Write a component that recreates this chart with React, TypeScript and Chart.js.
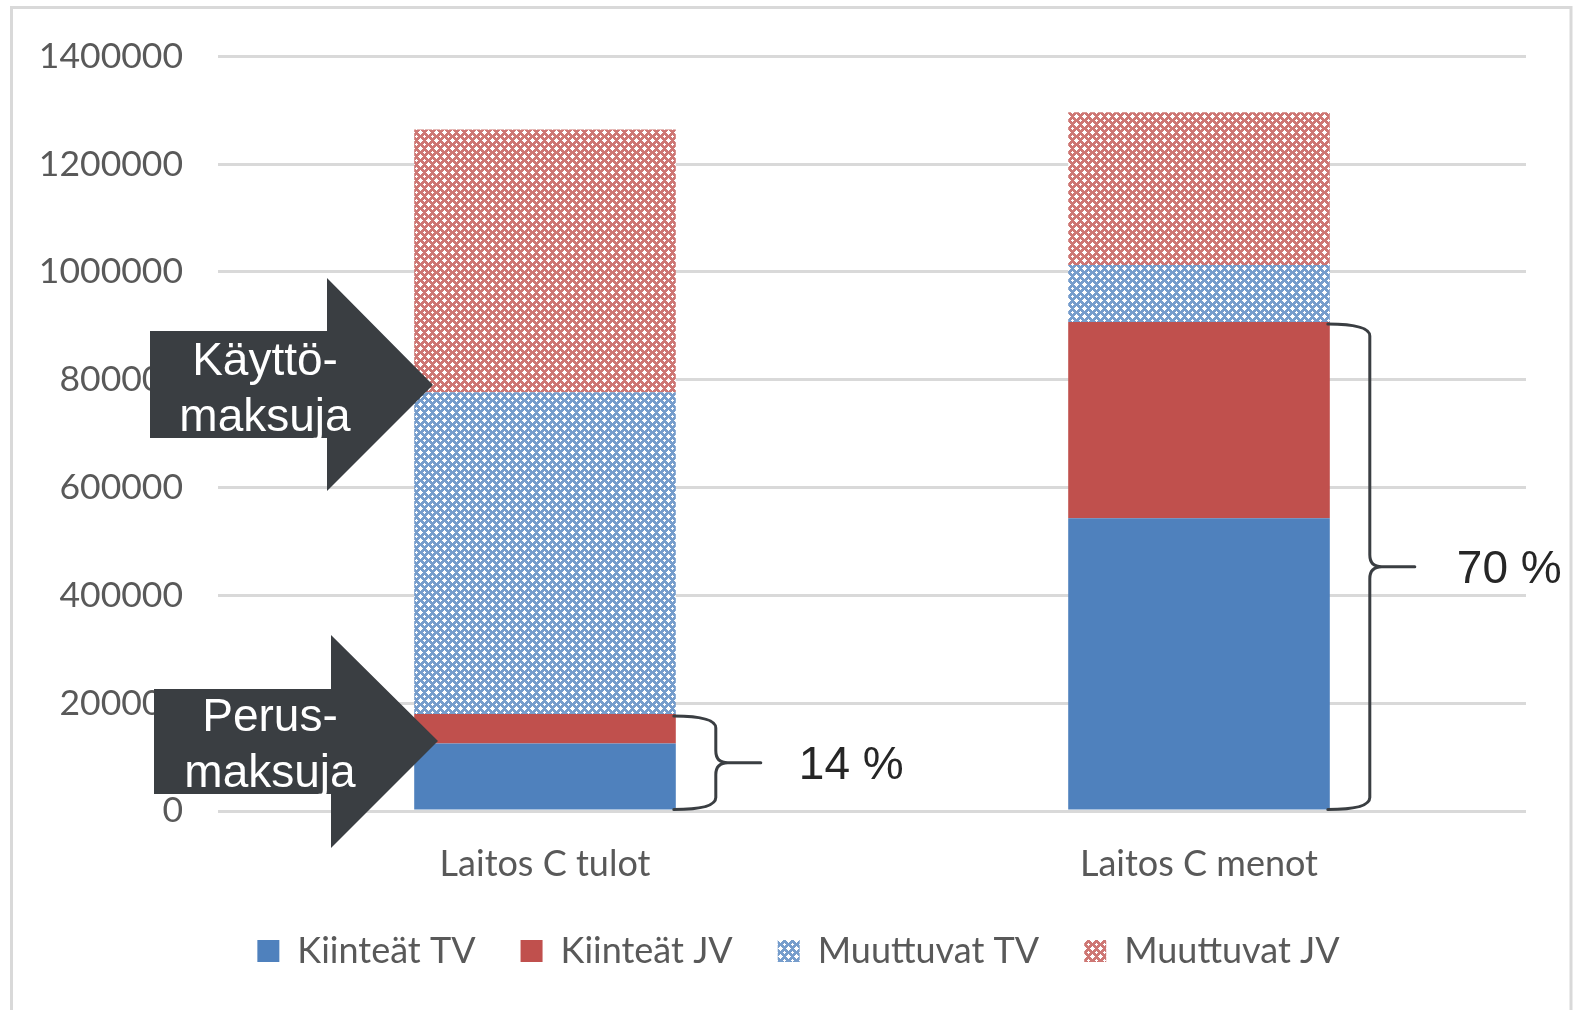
import React, { useEffect, useRef } from "react";
import { Chart, registerables } from "chart.js";

Chart.register(...registerables);

// ---- data ----
const categories = ["Laitos C tulot", "Laitos C menot"];
const seriesNames = ["Kiinteät TV", "Kiinteät JV", "Muuttuvat TV", "Muuttuvat JV"];
const kiinteatTV = [125000, 543000];
const kiinteatJV = [55000, 364000];
const muuttuvatTV = [597000, 106000];
const muuttuvatJV = [487000, 283000];
const yMin = 0;
const yMax = 1400000;
const yStep = 200000;
const braceLabels = ["14 %", "70 %"];
const arrowLabels = [
  ["Käyttö-", "maksuja"],
  ["Perus-", "maksuja"],
];

// ---- styles ----
const BLUE = "#4f81bd";
const RED = "#c0504d";
const DARK = "#3a3e42";
const GRID = "#d9d9d9";
const TEXT = "#595959";
const TICK_FONT = "Lato";
const ANN_FONT = "'Liberation Sans', Arial, sans-serif";

function makePattern(rgb: [number, number, number]): CanvasPattern | string {
  const c = document.createElement("canvas");
  c.width = 8;
  c.height = 8;
  const g = c.getContext("2d");
  const css = `rgb(${rgb[0]},${rgb[1]},${rgb[2]})`;
  if (!g) return css;
  const img = g.createImageData(8, 8);
  const white = new Set<string>();
  for (let y = 3; y <= 5; y++) for (let x = 3; x <= 5; x++) white.add(`${x},${y}`);
  ["2,4", "6,4", "4,2", "4,6", "0,0", "1,0", "7,0", "0,1", "0,7"].forEach((k) => white.add(k));
  for (let y = 0; y < 8; y++) {
    for (let x = 0; x < 8; x++) {
      const i = (y * 8 + x) * 4;
      const isWhite = white.has(`${x},${y}`);
      const a = isWhite ? 0 : 0.78;
      img.data[i] = Math.round(255 * (1 - a) + rgb[0] * a);
      img.data[i + 1] = Math.round(255 * (1 - a) + rgb[1] * a);
      img.data[i + 2] = Math.round(255 * (1 - a) + rgb[2] * a);
      img.data[i + 3] = 255;
    }
  }
  g.putImageData(img, 0, 0);
  const p = g.createPattern(c, "repeat");
  return p || css;
}

const annotationPlugin = {
  id: "annotations",
  beforeDraw(chart: any) {
    const ctx = chart.ctx as CanvasRenderingContext2D;
    ctx.save();
    ctx.fillStyle = "#ffffff";
    ctx.fillRect(0, 0, chart.width, chart.height);
    ctx.strokeStyle = GRID;
    ctx.lineWidth = 3;
    ctx.strokeRect(11.5, 7.5, 1559.5, 1012);
    ctx.restore();
  },
  afterDraw(chart: any) {
    const ctx = chart.ctx as CanvasRenderingContext2D;
    ctx.save();
    // braces
    const metaTop = chart.getDatasetMeta(1);
    const metaBase = chart.getDatasetMeta(0);
    ctx.strokeStyle = DARK;
    ctx.lineWidth = 3;
    ctx.lineCap = "round";
    ctx.lineJoin = "round";
    categories.forEach((_, i) => {
      const barTop: any = metaTop.data[i];
      const barBase: any = metaBase.data[i];
      if (!barTop || !barBase) return;
      const x0 = barTop.x + barTop.width / 2 - 2;
      const yT = barTop.y + 2;
      const yB = barBase.base;
      const xv = x0 + 42;
      const xt = x0 + 87;
      const ym = (yT + yB) / 2;
      const r = 12;
      ctx.beginPath();
      ctx.moveTo(x0, yT);
      ctx.quadraticCurveTo(xv, yT, xv, yT + r);
      ctx.lineTo(xv, ym - r);
      ctx.quadraticCurveTo(xv, ym, xv + r, ym);
      ctx.lineTo(xt, ym);
      ctx.moveTo(xv + r, ym);
      ctx.quadraticCurveTo(xv, ym, xv, ym + r);
      ctx.lineTo(xv, yB - r);
      ctx.quadraticCurveTo(xv, yB, x0, yB);
      ctx.stroke();
      ctx.fillStyle = "#262626";
      ctx.font = `46px ${ANN_FONT}`;
      ctx.textAlign = "left";
      ctx.textBaseline = "middle";
      ctx.fillText(braceLabels[i], xt + 38 + i * 4, ym + 4);
    });

    // arrows
    const arrows = [
      { rx: 150, ry1: 331, ry2: 438, hx: 327, hy1: 278, hy2: 491, tx: 433, ty: 385, cx: 265, b1: 375, b2: 431 },
      { rx: 154, ry1: 689, ry2: 794, hx: 331, hy1: 635, hy2: 848, tx: 438, ty: 741, cx: 270, b1: 731, b2: 787 },
    ];
    arrows.forEach((a, i) => {
      ctx.fillStyle = DARK;
      ctx.beginPath();
      ctx.moveTo(a.rx, a.ry1);
      ctx.lineTo(a.hx, a.ry1);
      ctx.lineTo(a.hx, a.hy1);
      ctx.lineTo(a.tx, a.ty);
      ctx.lineTo(a.hx, a.hy2);
      ctx.lineTo(a.hx, a.ry2);
      ctx.lineTo(a.rx, a.ry2);
      ctx.closePath();
      ctx.fill();
      ctx.fillStyle = "#ffffff";
      ctx.font = `46px ${ANN_FONT}`;
      ctx.textAlign = "center";
      ctx.textBaseline = "alphabetic";
      ctx.fillText(arrowLabels[i][0], a.cx, a.b1);
      ctx.fillText(arrowLabels[i][1], a.cx, a.b2);
    });
    ctx.restore();
  },
};

export default function App() {
  const ref = useRef<HTMLCanvasElement | null>(null);

  useEffect(() => {
    if (!ref.current) return;
    const blueP = makePattern([79, 129, 189]);
    const redP = makePattern([192, 80, 77]);
    const chart = new Chart(ref.current, {
      type: "bar",
      data: {
        labels: categories,
        datasets: [
          { label: seriesNames[0], data: kiinteatTV, backgroundColor: BLUE, borderWidth: 0 },
          { label: seriesNames[1], data: kiinteatJV, backgroundColor: RED, borderWidth: 0 },
          { label: seriesNames[2], data: muuttuvatTV, backgroundColor: blueP as any, borderWidth: 0 },
          { label: seriesNames[3], data: muuttuvatJV, backgroundColor: redP as any, borderWidth: 0 },
        ],
      },
      options: {
        responsive: false,
        animation: false,
        events: [],
        layout: { padding: { left: 24, right: 0, top: 55, bottom: 31 } },
        datasets: { bar: { categoryPercentage: 1, barPercentage: 0.4 } },
        plugins: {
          tooltip: { enabled: false },
          legend: {
            position: "bottom",
            labels: {
              boxWidth: 22,
              boxHeight: 22,
              padding: 45,
              color: TEXT,
              font: { family: TICK_FONT, size: 36 },
            },
          },
        },
        scales: {
          x: {
            stacked: true,
            grid: { display: false },
            border: { display: false },
            ticks: { color: TEXT, font: { family: TICK_FONT, size: 36 }, padding: 24 },
            afterFit: (s: any) => {
              s.height = 77;
            },
          },
          y: {
            stacked: true,
            min: yMin,
            max: yMax,
            border: { display: false },
            grid: { color: GRID, lineWidth: 3, drawTicks: false },
            ticks: {
              stepSize: yStep,
              color: TEXT,
              padding: 35,
              font: { family: TICK_FONT, size: 35.5 },
              callback: (v: any) => String(v),
            },
            afterFit: (s: any) => {
              s.width = 194;
            },
          },
          y2: {
            position: "right",
            display: true,
            grid: { display: false },
            border: { display: false },
            ticks: { display: false },
            afterFit: (s: any) => {
              s.width = 47;
            },
          },
        },
      },
      plugins: [annotationPlugin],
    });
    return () => chart.destroy();
  }, []);

  return (
    <div style={{ position: "absolute", left: 0, top: 0, width: 1573, height: 1010, background: "#fff" }}>
      <canvas ref={ref} width={1573} height={1010} style={{ display: "block" }} />
    </div>
  );
}
